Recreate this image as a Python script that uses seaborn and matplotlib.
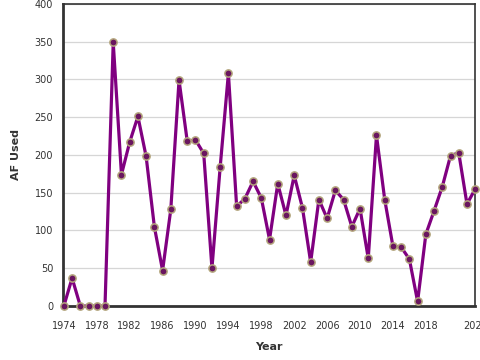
import matplotlib
matplotlib.use("Agg")
import matplotlib.pyplot as plt
import seaborn as sns
import pandas as pd

# values
years = list(range(1974, 2025))
af_used = [
    0, 37, 0, 0, 0, 0, 349, 174, 217, 251,
    198, 105, 47, 128, 299, 218, 220, 202, 50, 184,
    308, 132, 142, 165, 143, 88, 162, 120, 173, 130,
    58, 141, 116, 153, 141, 105, 129, 63, 226, 141,
    79, 78, 62, 6, 95, 126, 158, 199, 203, 135,
    155,
]
year_ticks = list(range(1974, 2023, 4))
y_ticks = list(range(0, 401, 50))

df = pd.DataFrame({"Year": years, "AF Used": af_used})

sns.set_style("white")
plt.rcParams["font.family"] = ["DejaVu Sans"]

fig = plt.figure(figsize=(4.8, 3.6), dpi=100)
ax = fig.add_axes([0.131, 0.15, 0.859, 0.839])

sns.lineplot(
    data=df, x="Year", y="AF Used", ax=ax,
    color="#800080", linewidth=2.3,
    marker="o", markersize=5.2,
    markerfacecolor="#6a1660", markeredgecolor="#b3a57c", markeredgewidth=1.1,
    clip_on=False, zorder=3,
)

ax.set_xlim(1973.88, 2024.0)
ax.set_ylim(0, 400)

ax.set_yticks(y_ticks)
ax.set_xticks(year_ticks)
ax.set_xticklabels([str(y) for y in year_ticks[:-1]] + [""])
# the last label sits at the right edge and is cut off in the original
ax.set_xticks([2024], minor=True)
ax.set_xticklabels(["2024"], minor=True)
ax.tick_params(axis="x", which="minor", length=0, pad=11, labelsize=7, labelcolor="#333333")

ax.tick_params(axis="both", which="major", direction="out", length=5, width=1,
               color="#333333", labelsize=7, labelcolor="#333333", pad=2)
ax.tick_params(axis="x", which="major", pad=6)

ax.yaxis.grid(True, color="#d6d6d6", linewidth=0.9)
ax.set_axisbelow(True)

for side in ["left", "bottom"]:
    ax.spines[side].set_linewidth(2.0)
    ax.spines[side].set_color("#333333")
for side in ["top", "right"]:
    ax.spines[side].set_linewidth(1.2)
    ax.spines[side].set_color("#333333")

ax.set_xlabel("Year", fontsize=8, fontweight="bold", color="#333333", labelpad=8)
ax.set_ylabel("AF Used", fontsize=8, fontweight="bold", color="#333333", labelpad=10)

fig.savefig("out.png", dpi=100)
